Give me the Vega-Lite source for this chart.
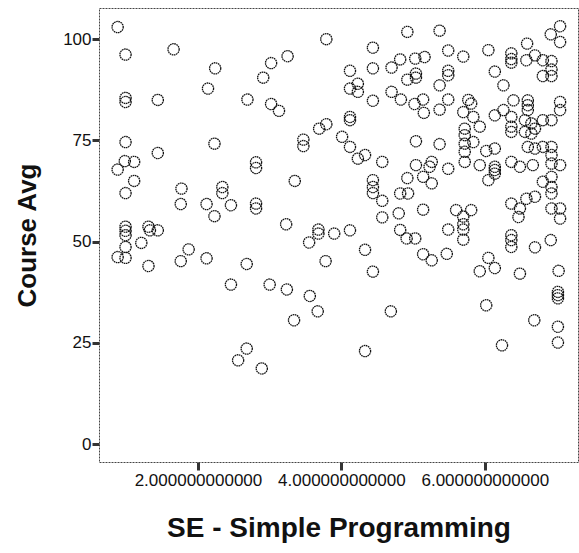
{
  "$schema": "https://vega.github.io/schema/vega-lite/v6.json",
  "width": 479,
  "height": 454,
  "autosize": {"type": "none"},
  "padding": {"left": 99, "top": 8, "right": 1, "bottom": 91},
  "background": "white",
  "config": {
    "font": "Liberation Sans",
    "view": {"stroke": "#444", "strokeWidth": 1, "strokeDash": [2, 1]}
  },
  "data": {
    "values": [
      {"se":0.88,"avg":103.0},{"se":0.99,"avg":96.2},{"se":1.66,"avg":97.5},{"se":2.24,"avg":92.8},{"se":2.14,"avg":87.8},
      {"se":2.91,"avg":90.5},{"se":0.99,"avg":85.5},{"se":0.99,"avg":84.5},{"se":1.44,"avg":85.0},{"se":2.69,"avg":85.1},
      {"se":0.99,"avg":74.6},{"se":2.23,"avg":74.2},{"se":1.44,"avg":71.9},{"se":0.98,"avg":69.9},{"se":1.11,"avg":69.7},
      {"se":0.88,"avg":67.8},{"se":2.81,"avg":69.6},{"se":2.81,"avg":68.2},{"se":1.11,"avg":65.0},{"se":0.99,"avg":62.0},
      {"se":1.77,"avg":63.1},{"se":2.34,"avg":63.5},{"se":2.34,"avg":62.0},{"se":1.76,"avg":59.3},{"se":2.12,"avg":59.3},
      {"se":2.23,"avg":56.3},{"se":2.46,"avg":59.0},{"se":2.81,"avg":59.4},{"se":2.81,"avg":58.2},{"se":0.99,"avg":53.7},
      {"se":0.99,"avg":52.7},{"se":0.99,"avg":51.6},{"se":1.31,"avg":53.7},{"se":1.33,"avg":52.8},{"se":1.44,"avg":52.8},
      {"se":1.21,"avg":49.7},{"se":0.99,"avg":48.7},{"se":0.88,"avg":46.2},{"se":0.99,"avg":46.0},{"se":1.31,"avg":44.0},
      {"se":1.87,"avg":48.1},{"se":1.76,"avg":45.2},{"se":2.12,"avg":45.9},{"se":2.68,"avg":44.5},{"se":2.46,"avg":39.4},
      {"se":2.68,"avg":23.6},{"se":2.56,"avg":20.7},{"se":2.89,"avg":18.7},{"se":3.00,"avg":39.4},{"se":3.24,"avg":38.2},
      {"se":3.79,"avg":100.0},{"se":4.92,"avg":101.8},{"se":4.44,"avg":97.9},{"se":3.25,"avg":95.8},{"se":3.02,"avg":94.1},
      {"se":4.12,"avg":92.2},{"se":4.44,"avg":92.8},{"se":4.70,"avg":93.0},{"se":4.82,"avg":95.0},{"se":5.03,"avg":95.2},
      {"se":4.12,"avg":87.8},{"se":4.23,"avg":89.0},{"se":4.23,"avg":87.0},{"se":4.70,"avg":87.0},{"se":4.83,"avg":85.1},
      {"se":4.92,"avg":90.0},{"se":5.04,"avg":91.5},{"se":5.04,"avg":90.5},{"se":4.44,"avg":84.8},{"se":3.02,"avg":84.0},
      {"se":3.13,"avg":82.3},{"se":4.12,"avg":80.8},{"se":4.12,"avg":80.0},{"se":3.79,"avg":79.0},{"se":3.69,"avg":77.9},
      {"se":3.47,"avg":75.2},{"se":3.47,"avg":73.6},{"se":4.01,"avg":75.9},{"se":4.12,"avg":73.4},{"se":4.23,"avg":70.5},
      {"se":4.33,"avg":71.4},{"se":4.57,"avg":69.7},{"se":5.04,"avg":74.8},{"se":3.35,"avg":65.0},{"se":4.44,"avg":65.2},
      {"se":4.44,"avg":63.5},{"se":4.44,"avg":62.0},{"se":4.57,"avg":60.1},{"se":4.82,"avg":61.9},{"se":4.93,"avg":61.9},
      {"se":5.04,"avg":68.9},{"se":4.92,"avg":65.7},{"se":4.57,"avg":56.0},{"se":4.80,"avg":57.0},{"se":3.23,"avg":54.3},
      {"se":3.68,"avg":53.0},{"se":3.68,"avg":52.0},{"se":3.90,"avg":52.0},{"se":4.12,"avg":52.8},{"se":3.55,"avg":49.8},
      {"se":4.82,"avg":52.9},{"se":4.91,"avg":50.8},{"se":5.03,"avg":50.8},{"se":4.33,"avg":48.0},{"se":3.78,"avg":45.2},
      {"se":4.44,"avg":42.6},{"se":3.56,"avg":36.6},{"se":3.67,"avg":32.8},{"se":3.34,"avg":30.6},{"se":4.69,"avg":32.8},
      {"se":4.33,"avg":23.0},
      {"se":5.37,"avg":102.1},{"se":7.05,"avg":103.2},{"se":6.92,"avg":101.2},{"se":7.05,"avg":99.3},{"se":5.49,"avg":97.2},
      {"se":5.70,"avg":95.7},{"se":6.05,"avg":97.3},{"se":5.16,"avg":95.6},{"se":6.59,"avg":98.9},{"se":6.37,"avg":96.5},
      {"se":6.37,"avg":95.1},{"se":6.37,"avg":94.2},{"se":6.58,"avg":94.8},{"se":6.70,"avg":96.0},{"se":6.81,"avg":94.8},
      {"se":6.93,"avg":94.6},{"se":6.93,"avg":92.5},{"se":6.81,"avg":90.9},{"se":6.93,"avg":90.9},{"se":5.49,"avg":92.2},
      {"se":5.49,"avg":91.1},{"se":5.37,"avg":88.6},{"se":6.14,"avg":92.0},{"se":6.26,"avg":88.6},{"se":5.14,"avg":85.1},
      {"se":5.02,"avg":84.0},{"se":5.15,"avg":81.8},{"se":5.37,"avg":82.6},{"se":5.49,"avg":85.1},{"se":5.77,"avg":85.0},
      {"se":5.81,"avg":84.1},{"se":5.70,"avg":82.0},{"se":5.84,"avg":80.8},{"se":5.93,"avg":78.4},{"se":6.14,"avg":81.2},
      {"se":6.26,"avg":82.5},{"se":6.40,"avg":84.9},{"se":6.37,"avg":80.8},{"se":6.37,"avg":78.4},{"se":6.37,"avg":77.1},
      {"se":6.60,"avg":84.9},{"se":6.60,"avg":83.7},{"se":6.60,"avg":82.5},{"se":6.56,"avg":80.0},{"se":6.65,"avg":79.2},
      {"se":6.70,"avg":77.9},{"se":6.56,"avg":77.1},{"se":6.65,"avg":76.7},{"se":6.81,"avg":80.0},{"se":6.93,"avg":80.0},
      {"se":7.05,"avg":84.5},{"se":7.05,"avg":82.5},{"se":5.72,"avg":77.9},{"se":5.72,"avg":76.3},{"se":5.72,"avg":74.2},
      {"se":5.72,"avg":72.2},{"se":5.72,"avg":69.7},{"se":5.84,"avg":74.6},{"se":5.37,"avg":74.1},{"se":6.02,"avg":72.4},
      {"se":6.14,"avg":73.0},{"se":6.60,"avg":73.4},{"se":6.70,"avg":73.0},{"se":6.81,"avg":73.4},{"se":6.93,"avg":73.4},
      {"se":6.93,"avg":71.4},{"se":5.26,"avg":69.7},{"se":5.23,"avg":68.5},{"se":5.14,"avg":66.0},{"se":5.26,"avg":64.4},
      {"se":5.49,"avg":68.0},{"se":5.93,"avg":68.9},{"se":6.14,"avg":68.5},{"se":6.14,"avg":67.7},{"se":6.14,"avg":66.8},
      {"se":6.05,"avg":65.2},{"se":6.37,"avg":69.7},{"se":6.49,"avg":68.5},{"se":6.67,"avg":68.9},{"se":6.93,"avg":69.3},
      {"se":7.05,"avg":68.9},{"se":6.81,"avg":64.8},{"se":6.93,"avg":66.0},{"se":6.93,"avg":63.5},{"se":6.93,"avg":61.9},
      {"se":6.58,"avg":60.6},{"se":6.70,"avg":61.1},{"se":6.37,"avg":59.4},{"se":6.49,"avg":58.2},{"se":6.47,"avg":56.1},
      {"se":6.93,"avg":58.2},{"se":7.05,"avg":58.2},{"se":7.05,"avg":55.7},{"se":5.14,"avg":57.9},{"se":5.60,"avg":57.8},
      {"se":5.81,"avg":57.8},{"se":5.70,"avg":56.2},{"se":5.70,"avg":54.3},{"se":5.70,"avg":53.0},{"se":5.49,"avg":53.0},
      {"se":5.70,"avg":50.5},{"se":6.37,"avg":51.6},{"se":6.37,"avg":50.4},{"se":6.37,"avg":48.7},{"se":6.70,"avg":48.6},
      {"se":6.92,"avg":50.4},{"se":5.14,"avg":46.9},{"se":5.47,"avg":47.0},{"se":6.05,"avg":46.0},{"se":5.26,"avg":45.4},
      {"se":5.93,"avg":42.7},{"se":6.14,"avg":43.5},{"se":6.49,"avg":42.1},{"se":7.03,"avg":42.8},{"se":7.02,"avg":37.6},
      {"se":7.02,"avg":36.8},{"se":7.02,"avg":36.0},{"se":6.02,"avg":34.3},{"se":6.69,"avg":30.6},{"se":7.02,"avg":29.0},
      {"se":7.02,"avg":25.1},{"se":6.24,"avg":24.4}
    ]
  },
  "mark": {"type": "point", "shape": "circle", "filled": false, "size": 125, "stroke": "#111", "strokeWidth": 1.3, "strokeDash": [1.6, 0.6], "opacity": 1},
  "encoding": {
    "x": {
      "field": "se", "type": "quantitative",
      "scale": {"domain": [0.62, 7.30], "nice": false, "zero": false},
      "axis": {
        "title": "SE - Simple Programming", "values": [2, 4, 6], "format": ".12f",
        "grid": false, "domain": false, "tickSize": 8, "tickWidth": 3, "tickColor": "#333",
        "labelFontSize": 17, "labelColor": "#111", "labelPadding": 2, "labelFlush": false,
        "titleFontSize": 28, "titleFontWeight": "bold", "titleColor": "#111", "titlePadding": 26
      }
    },
    "y": {
      "field": "avg", "type": "quantitative",
      "scale": {"domain": [-4.4, 107.7], "nice": false, "zero": false},
      "axis": {
        "title": "Course Avg", "values": [0, 25, 50, 75, 100],
        "grid": false, "domain": false, "tickSize": 7, "tickWidth": 3, "tickColor": "#333",
        "labelFontSize": 17, "labelColor": "#111", "labelPadding": 1, "labelFlush": false,
        "titleFontSize": 26, "titleFontWeight": "bold", "titleColor": "#111", "titlePadding": 22
      }
    }
  }
}
